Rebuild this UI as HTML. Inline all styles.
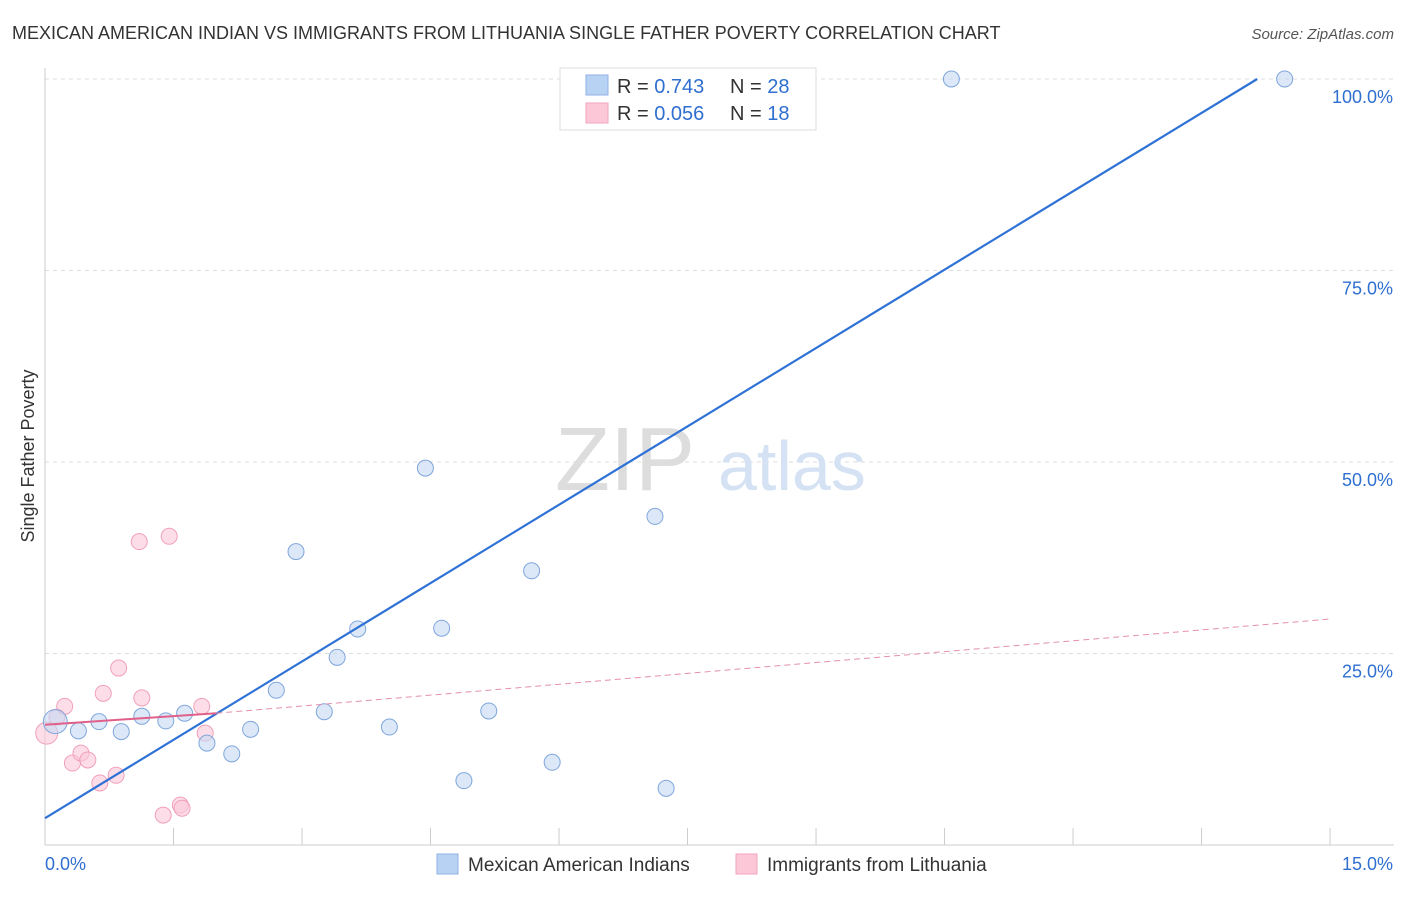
<!DOCTYPE html>
<html><head><meta charset="utf-8"><style>
body{margin:0;background:#fff;font-family:"Liberation Sans",sans-serif}
svg text{font-family:"Liberation Sans",sans-serif}
</style></head><body>
<svg id="c" width="1406" height="892" xmlns="http://www.w3.org/2000/svg">
<text x="12" y="39" font-size="18" fill="#333">MEXICAN AMERICAN INDIAN VS IMMIGRANTS FROM LITHUANIA SINGLE FATHER POVERTY CORRELATION CHART</text>
<text x="1394" y="39" font-size="15" fill="#555" text-anchor="end" font-style="italic">Source: ZipAtlas.com</text>
<g id="grid"></g>
<text x="555" y="490" font-size="90" fill="#ddd" font-family="Liberation Serif">ZIP</text>
<text x="718" y="490" font-size="70" fill="#d4e2f4">atlas</text>
<text transform="translate(34,456) rotate(-90)" font-size="18" fill="#333" text-anchor="middle">Single Father Poverty</text>
<g id="marks"></g>
<g>
<rect x="560" y="68" width="256" height="62" fill="#fff" stroke="#ddd"/>
<rect x="586" y="75" width="22" height="20" fill="#b8d2f4" stroke="#8fb3e6"/>
<rect x="586" y="103" width="22" height="20" fill="#fcc8d8" stroke="#f2a3bc"/>
<text x="617" y="93" font-size="20" fill="#333">R = <tspan fill="#2f6fd0">0.743</tspan></text>
<text x="730" y="93" font-size="20" fill="#333">N = <tspan fill="#2f6fd0">28</tspan></text>
<text x="617" y="120" font-size="20" fill="#333">R = <tspan fill="#2f6fd0">0.056</tspan></text>
<text x="730" y="120" font-size="20" fill="#333">N = <tspan fill="#2f6fd0"> 18</tspan></text>
</g>
<g>
<rect x="437" y="854" width="21" height="20" fill="#b8d2f4" stroke="#8fb3e6"/>
<text x="468" y="871" font-size="19" fill="#333">Mexican American Indians</text>
<rect x="736" y="854" width="21" height="20" fill="#fcc8d8" stroke="#f2a3bc"/>
<text x="767" y="871" font-size="19" fill="#333">Immigrants from Lithuania</text>
</g>
</svg>
<script>
const blueX=[0.12,0.39,0.63,0.89,1.13,1.41,1.63,1.89,2.18,2.40,2.70,2.93,3.26,3.41,3.65,4.02,4.44,4.63,4.89,5.18,5.68,5.92,7.12,7.25,6.42,8.11,10.58,14.47];
const blueY=[16.1,14.9,16.1,14.8,16.8,16.2,17.2,13.3,11.9,15.1,20.2,38.3,17.4,24.5,28.2,15.4,49.2,28.3,8.4,17.5,35.8,10.8,42.9,7.4,100,100,100,100];
const pinkX=[0.02,0.14,0.23,0.32,0.42,0.5,0.64,0.68,0.83,0.86,1.10,1.13,1.38,1.45,1.58,1.6,1.83,1.87];
const pinkY=[14.6,16.7,18.1,10.7,12.0,11.1,8.1,19.8,9.1,23.1,39.6,19.2,3.9,40.3,5.2,4.8,18.1,14.6];
const yTicks=[25,50,75,100];
const yTickLabels=["25.0%","50.0%","75.0%","100.0%"];
const xTicks=[0,1.5,3,4.5,6,7.5,9,10.5,12,13.5,15];
const blueFit=[[0,3.5],[14.15,100]];
const pinkFit=[[0,15.7],[2.0,17.2],[15,29.5]];
const NS="http://www.w3.org/2000/svg";
const sx=v=>45+v*85.67, sy=v=>845-v*7.66;
function mk(t,a,p){const e=document.createElementNS(NS,t);for(const k in a)e.setAttribute(k,a[k]);p.appendChild(e);return e;}
const g=document.getElementById('grid'),m=document.getElementById('marks');
yTicks.forEach((t,i)=>{
 const l=mk('line',{x1:45,x2:1394,y1:sy(t),y2:sy(t),stroke:'#ddd','stroke-dasharray':'4,4'},g);
 
 
 const tx=mk('text',{x:1393,y:sy(t)+24,'font-size':18,fill:'#2f6fd0','text-anchor':'end'},g);
 tx.textContent=yTickLabels[i];
 
 
});
const ax=mk('line',{x1:45,x2:1394,y1:845,y2:845,stroke:'#ccc'},g);


const ay=mk('line',{x1:45,x2:45,y1:68,y2:845,stroke:'#ccc'},g);


xTicks.forEach(t=>{const l=mk('line',{x1:sx(t),x2:sx(t),y1:828,y2:845,stroke:'#ccc'},g);
 
 });
const x0=mk('text',{x:45,y:870,'font-size':18,fill:'#2f6fd0'},g);x0.textContent='0.0%';


const x1=mk('text',{x:1393,y:870,'font-size':18,fill:'#2f6fd0','text-anchor':'end'},g);x1.textContent='15.0%';


pinkX.forEach((x,i)=>{const c=mk('circle',{cx:sx(x),cy:sy(pinkY[i]),r:i==0?11:8,fill:'#fcc8d8','fill-opacity':0.6,stroke:'#f0a0b8'},m);
 
 });
blueX.forEach((x,i)=>{const c=mk('circle',{cx:sx(x),cy:sy(blueY[i]),r:i==0?12:8,fill:'#c4d8f4','fill-opacity':0.6,stroke:'#7fa6dc'},m);
 
 });
const bl=mk('line',{x1:sx(blueFit[0][0]),y1:sy(blueFit[0][1]),x2:sx(blueFit[1][0]),y2:sy(blueFit[1][1]),stroke:'#2f72d6','stroke-width':2.2},m);


const p1=mk('line',{x1:sx(pinkFit[0][0]),y1:sy(pinkFit[0][1]),x2:sx(pinkFit[1][0]),y2:sy(pinkFit[1][1]),stroke:'#e0608a','stroke-width':2},m);


const p2=mk('line',{x1:sx(pinkFit[1][0]),y1:sy(pinkFit[1][1]),x2:sx(pinkFit[2][0]),y2:sy(pinkFit[2][1]),stroke:'#e590aa','stroke-width':1,'stroke-dasharray':'6,4'},m);


</script>
</body></html>
